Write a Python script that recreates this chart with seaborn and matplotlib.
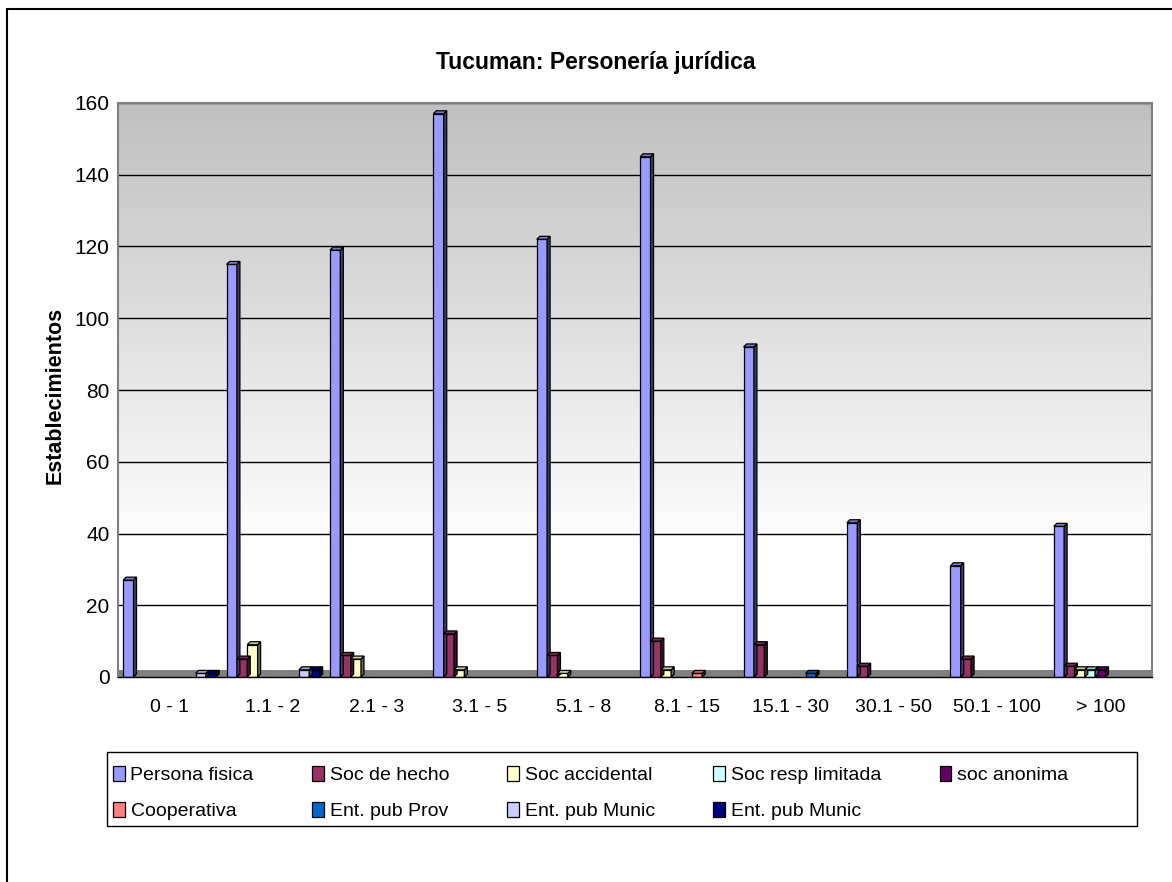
import numpy as np
import pandas as pd
import seaborn as sns
import matplotlib.pyplot as plt
from matplotlib.patches import Patch, Polygon, Rectangle
from matplotlib.colors import to_rgb, LinearSegmentedColormap

categories = ["0 - 1", "1.1 - 2", "2.1 - 3", "3.1 - 5", "5.1 - 8",
              "8.1 - 15", "15.1 - 30", "30.1 - 50", "50.1 - 100", "> 100"]

series_labels = ["Persona fisica", "Soc de hecho", "Soc accidental", "Soc resp limitada",
                 "soc anonima", "Cooperativa", "Ent. pub Prov", "Ent. pub Munic", "Ent. pub Munic"]
series_keys = ["s1", "s2", "s3", "s4", "s5", "s6", "s7", "s8", "s9"]
series_colors = ["#9999FF", "#993366", "#FFFFCC", "#CCFFFF", "#660066",
                 "#FF8080", "#0066CC", "#CCCCFF", "#000080"]

persona_fisica = [27, 115, 119, 157, 122, 145, 92, 43, 31, 42]
soc_de_hecho = [0, 5, 6, 12, 6, 10, 9, 3, 5, 3]
soc_accidental = [0, 9, 5, 2, 1, 2, 0, 0, 0, 2]
soc_resp_limitada = [0, 0, 0, 0, 0, 0, 0, 0, 0, 2]
soc_anonima = [0, 0, 0, 0, 0, 0, 0, 0, 0, 2]
cooperativa = [0, 0, 0, 0, 0, 1, 0, 0, 0, 0]
ent_pub_prov = [0, 0, 0, 0, 0, 0, 1, 0, 0, 0]
ent_pub_munic_a = [1, 2, 0, 0, 0, 0, 0, 0, 0, 0]
ent_pub_munic_b = [1, 2, 0, 0, 0, 0, 0, 0, 0, 0]

all_series = [persona_fisica, soc_de_hecho, soc_accidental, soc_resp_limitada, soc_anonima,
              cooperativa, ent_pub_prov, ent_pub_munic_a, ent_pub_munic_b]

SANS = ["Liberation Sans", "DejaVu Sans"]


def build_long_df():
    rows = []
    for key, values in zip(series_keys, all_series):
        for cat, v in zip(categories, values):
            # empty combos are simply not drawn
            if v > 0:
                rows.append({"rango": cat, "serie": key, "valor": v})
    return pd.DataFrame(rows)


def shade(color, f):
    r, g, b = to_rgb(color)
    return (r * f, g * f, b * f)


def add_depth(ax):
    # fake the excel 3d look: a dark side face and a top face on every bar
    inv = ax.transData.inverted()
    p0 = inv.transform((0, 0))
    p1 = inv.transform((3, 3))
    dx, dy = p1[0] - p0[0], p1[1] - p0[1]
    for container in ax.containers:
        for bar in container.patches:
            x, y = bar.get_x(), bar.get_y()
            w, h = bar.get_width(), bar.get_height()
            if not np.isfinite(h) or h <= 0:
                continue
            fc = bar.get_facecolor()
            side = Polygon([(x + w, y), (x + w + dx, y + dy), (x + w + dx, y + h + dy), (x + w, y + h)],
                           closed=True, facecolor=shade(fc, 0.4), edgecolor="black", lw=0.9, zorder=3)
            top = Polygon([(x, y + h), (x + dx, y + h + dy), (x + w + dx, y + h + dy), (x + w, y + h)],
                          closed=True, facecolor=shade(fc, 0.8), edgecolor="black", lw=0.9, zorder=3)
            ax.add_patch(side)
            ax.add_patch(top)


df = build_long_df()

sns.set_style("white")
plt.rcParams["font.family"] = SANS
plt.rcParams["text.color"] = "black"
plt.rcParams["xtick.color"] = "black"
plt.rcParams["ytick.color"] = "black"
plt.rcParams["xtick.labelcolor"] = "black"
plt.rcParams["ytick.labelcolor"] = "black"

fig = plt.figure(figsize=(11.72, 8.82), dpi=100)
ax = fig.add_axes([118 / 1172, (882 - 677) / 882, 1034 / 1172, 574 / 882])

sns.barplot(data=df, x="rango", y="valor", hue="serie", order=categories,
            hue_order=series_keys, palette=dict(zip(series_keys, series_colors)),
            saturation=1, width=0.9, errorbar=None, edgecolor="black", linewidth=0.9,
            legend=False, ax=ax, zorder=2)

ax.set_xlim(-0.5, len(categories) - 0.5)
ax.set_ylim(0, 160)

# grey to white gradient on the back wall (white from about 35 down)
yy = np.linspace(160, 0, 320)
grad = np.clip((yy - 35) / (160 - 35), 0, 1).reshape(-1, 1)
wall = LinearSegmentedColormap.from_list("wall", ["#FFFFFF", "#C0C0C0"])
ax.imshow(grad, extent=(-0.5, len(categories) - 0.5, 0, 160), aspect="auto",
          cmap=wall, vmin=0, vmax=1, zorder=0, interpolation="bilinear")

ax.set_yticks(np.arange(0, 161, 20))
ax.grid(axis="y", color="black", linewidth=1.0)
for line in ax.get_ygridlines():
    line.set_zorder(1)

add_depth(ax)

# floor strip behind the bars
inv = ax.transData.inverted()
floor_h = inv.transform((0, 7))[1] - inv.transform((0, 0))[1]
ax.add_patch(Rectangle((-0.5, 0), len(categories), floor_h, facecolor="#808080",
                       edgecolor="none", zorder=1.5))

# spines and ticks
for s in ["top", "right", "left"]:
    ax.spines[s].set_color("#808080")
    ax.spines[s].set_linewidth(1.5)
ax.spines["bottom"].set_color("black")
ax.spines["bottom"].set_linewidth(1.0)
ax.spines["bottom"].set_zorder(4)

ax.set_xticks(range(len(categories)))
ax.set_xticklabels(categories, fontsize=14)
ax.set_xticks(np.arange(-0.5, len(categories), 1.0), minor=True)
ax.tick_params(axis="x", which="major", length=0, pad=16)
ax.tick_params(axis="x", which="minor", length=6, width=1, color="black", direction="out")
ax.tick_params(axis="y", length=4, width=1, color="black", direction="out", pad=2, labelsize=15)

ax.set_xlabel("")
ax.set_ylabel("")

fig.text(0.508, 1 - 62 / 882, "Tucuman: Personería jurídica", ha="center", va="center",
         fontsize=16.5, fontweight="bold")
fig.text(55 / 1172, 1 - 395 / 882, "Establecimientos", rotation=90, ha="center", va="center",
         fontsize=15.5, fontweight="bold")

# legend box drawn on its own, entries filled row by row like the original
fig.patches.append(Rectangle((107 / 1172, 1 - 826 / 882), 1030 / 1172, 74 / 882,
                             transform=fig.transFigure, fill=False, edgecolor="black", linewidth=1.0))
handles = [Patch(facecolor=c, edgecolor="black", linewidth=0.9) for c in series_colors]
order = [0, 5, 1, 6, 2, 7, 3, 8, 4]
leg = fig.legend([handles[i] for i in order], [series_labels[i] for i in order],
                 ncol=5, loc="upper left", bbox_to_anchor=(113 / 1172, 1 - 766 / 882),
                 prop={"size": 14}, frameon=False,
                 handlelength=0.6, handleheight=0.8, handletextpad=0.3,
                 labelspacing=0.9, columnspacing=3.0, borderpad=0, borderaxespad=0)

# outer chart border
fig.patches.append(Rectangle((7 / 1172, -0.05), 1.2, 1 - 9 / 882 + 0.05, transform=fig.transFigure,
                             fill=False, edgecolor="black", linewidth=1.5))

fig.savefig("out.png", dpi=100)
